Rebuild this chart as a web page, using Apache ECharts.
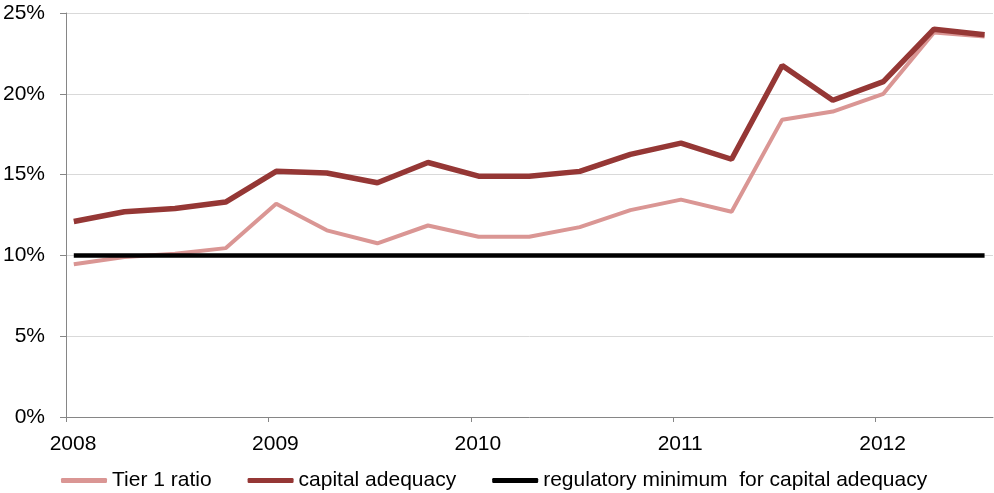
<!DOCTYPE html>
<html>
<head>
	<meta charset="UTF-8">
	<title>capital adequacy</title>
	<style>
		html, body { margin: 0; padding: 0; background: #fff; }
		#chart { width: 994px; height: 493px; }
	</style>
</head>
<body>
<div id="chart"></div>
<script type="text/javascript" src="https://cdn.jsdelivr.net/npm/echarts@6/dist/echarts.min.js"></script>
<script type="text/javascript">
// quarterly observations
var dates = ['2008-01-15', '2008-04-15', '2008-07-15', '2008-10-15',
	'2009-01-15', '2009-04-15', '2009-07-15', '2009-10-15',
	'2010-01-15', '2010-04-15', '2010-07-15', '2010-10-15',
	'2011-01-15', '2011-04-15', '2011-07-15', '2011-10-15',
	'2012-01-15', '2012-04-15', '2012-07-15'];
var tier1 = [9.45, 9.9, 10.1, 10.45, 13.2, 11.55, 10.75, 11.85, 11.15, 11.15, 11.75, 12.8, 13.45, 12.7, 18.4, 18.9, 20.0, 23.8, 23.55];
var capital = [12.1, 12.7, 12.9, 13.3, 15.2, 15.1, 14.5, 15.75, 14.9, 14.9, 15.2, 16.25, 16.95, 15.95, 21.75, 19.6, 20.75, 24.0, 23.65];
var regulatory = [10, 10, 10, 10, 10, 10, 10, 10, 10, 10, 10, 10, 10, 10, 10, 10, 10, 10, 10];
var seriesNames = ['Tier 1 ratio', 'capital adequacy', 'regulatory minimum  for capital adequacy'];
var yearTicks = [2008, 2009, 2010, 2011, 2012];

function toYear(d) {
	var p = d.split('-');
	return parseInt(p[0]) + (parseInt(p[1]) - 1) / 12 + (parseInt(p[2]) - 1) / 365;
}
function pairs(vals) {
	var out = [];
	for (var i = 0; i < vals.length; i++) {
		out.push([toYear(dates[i]), vals[i]]);
	}
	return out;
}

var font = 'Liberation Sans, Arial, sans-serif';
var chart = echarts.init(document.getElementById('chart'));
var option = {
	animation: false,
	grid: { left: 66, right: 1, top: 13, bottom: 76, containLabel: false },
	legend: {
		left: 56,
		top: 465,
		itemWidth: 46,
		itemHeight: 5,
		itemGap: 36,
		icon: 'roundRect',
		textStyle: { fontFamily: font, fontSize: 21, color: '#000' },
		data: seriesNames
	},
	xAxis: {
		type: 'value',
		min: yearTicks[0],
		max: 2012.58,
		interval: 1,
		axisLine: { lineStyle: { color: '#868686', width: 1 } },
		axisTick: { show: true, length: 5, lineStyle: { color: '#868686' } },
		splitLine: { show: false },
		axisLabel: {
			margin: 17,
			padding: [0, 0, 0, 14],
			fontFamily: font,
			fontSize: 21,
			color: '#000',
			showMaxLabel: false,
			formatter: function (v) { return yearTicks.indexOf(v) >= 0 ? String(v) : ''; }
		}
	},
	yAxis: {
		type: 'value',
		min: 0,
		max: 25,
		interval: 5,
		axisLine: { show: true, lineStyle: { color: '#868686', width: 1 } },
		axisTick: { show: true, length: 6, lineStyle: { color: '#868686' } },
		splitLine: { lineStyle: { color: '#d9d9d9', width: 1 } },
		axisLabel: {
			margin: 21,
			fontFamily: font,
			fontSize: 21,
			color: '#000',
			formatter: '{value}%'
		}
	},
	series: [
		{
			name: seriesNames[0],
			type: 'line',
			data: pairs(tier1),
			symbol: 'none',
			color: '#da9694',
			lineStyle: { color: '#da9694', width: 4 },
			z: 2
		},
		{
			name: seriesNames[1],
			type: 'line',
			data: pairs(capital),
			symbol: 'none',
			color: '#953735',
			lineStyle: { color: '#953735', width: 5.5 },
			z: 3
		},
		{
			name: seriesNames[2],
			type: 'line',
			data: pairs(regulatory),
			symbol: 'none',
			color: '#000000',
			lineStyle: { color: '#000000', width: 4.5 },
			z: 4
		}
	]
};
chart.setOption(option);
</script>
</body>
</html>
